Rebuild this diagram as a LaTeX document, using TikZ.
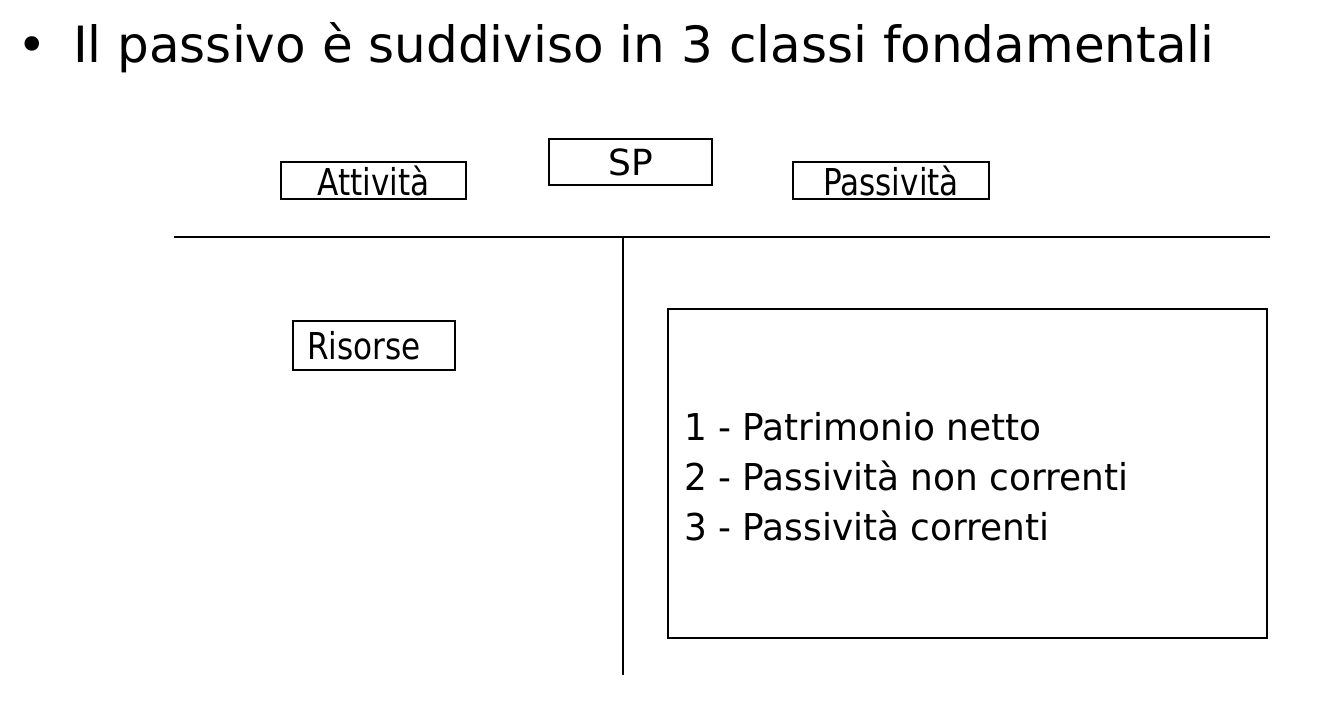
\documentclass[tikz,border=0pt]{standalone}
\usepackage{fontspec}
\setmainfont{DejaVu Sans}
\newfontfamily\slidefont[FakeStretch=0.84]{DejaVu Sans}
\newfontfamily\elencofont[FakeStretch=0.97]{DejaVu Sans}
\usepackage{tikz}
\usetikzlibrary{positioning}
\tikzstyle{titolo}=[inner sep=0pt,font=\fontsize{50}{58}\selectfont]
\tikzstyle{etichetta}=[draw,line width=2pt,inner sep=0pt,font=\slidefont\fontsize{37}{50}\selectfont]
\tikzstyle{voce}=[inner sep=0pt,anchor=base west,font=\elencofont\fontsize{37}{50}\selectfont]

\begin{document}
\begin{tikzpicture}[x=1pt,y=-1pt,line width=2pt]
\useasboundingbox[fill=white] (0,0) rectangle (1340,703);
% titolo
\node [titolo,anchor=base west] (punto) at (16,63) {•};
\node [titolo,anchor=base west] (titolo) at (72,63) {Il passivo è suddiviso in 3 classi fondamentali};
% intestazione del conto
\node [etichetta,font=\fontsize{36}{50}\selectfont,minimum width=163pt,minimum height=46pt] (sp) at (630.5,162) {SP};
\node [etichetta,minimum width=185pt,minimum height=37pt] (att) at (373.5,180.5) {Attività};
\node [etichetta,minimum width=196pt,minimum height=37pt] (pas) at (891,180.5) {Passività};
% schema a T
\coordinate (sx) at (174,237);
\coordinate (dx) at (1270,237);
\coordinate (alto) at (623,237);
\coordinate (basso) at (623,675);
\draw (sx) -- (dx);
\draw (alto) -- (basso);
% lato sinistro
\node [etichetta,minimum height=49pt,text width=134pt,inner xsep=14pt,align=left] (ris) at (374,345.5) {Risorse};
% lato destro
\node [draw,minimum width=599pt,minimum height=329pt] (classi) at (967.5,473.5) {};
\node [voce] (pn) at (683,440) {1 - Patrimonio netto};
\node [voce] (pnc) at (683,490) {2 - Passività non correnti};
\node [voce] (pc) at (683,540) {3 - Passività correnti};
\end{tikzpicture}
\end{document}
